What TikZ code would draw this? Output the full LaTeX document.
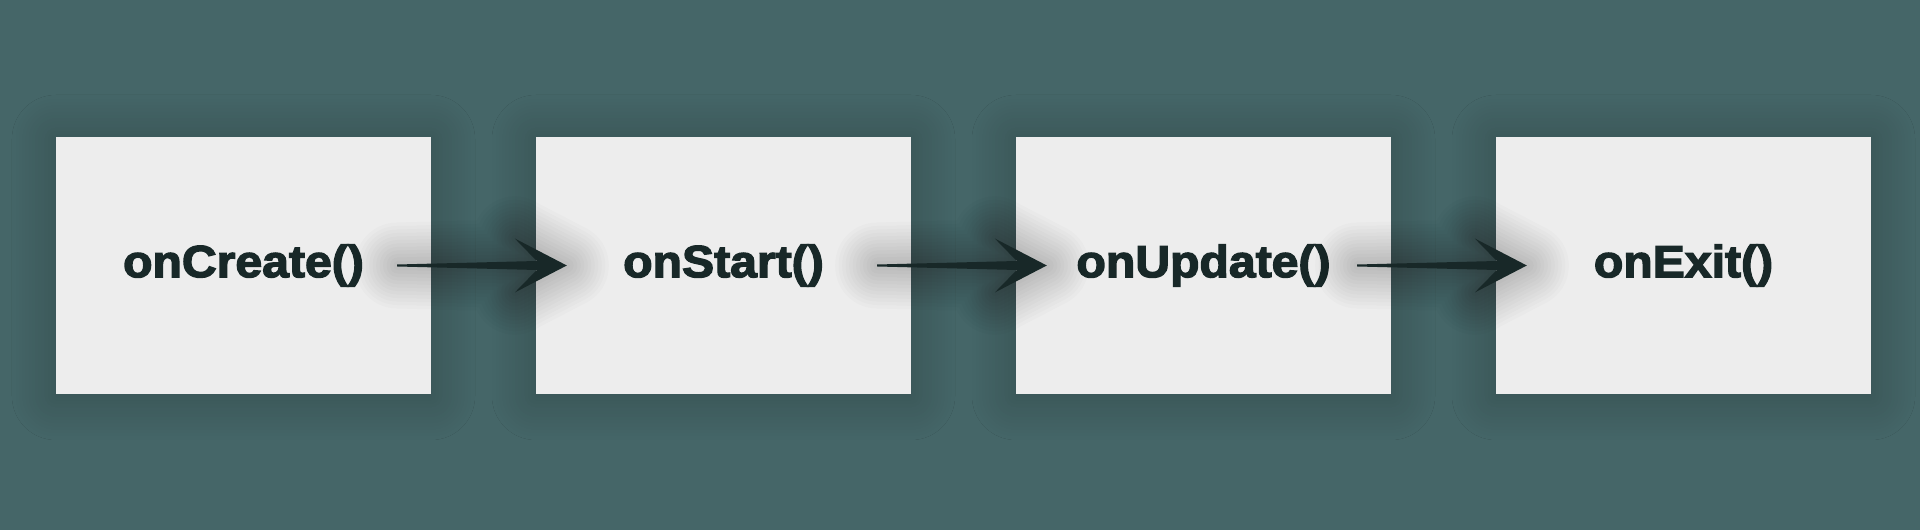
\documentclass[tikz,border=0pt]{standalone}
\usepackage{fontspec}
\newfontfamily\boxfont{Liberation Sans Bold}[FakeBold=3,FakeStretch=1.07]
\usetikzlibrary{calc,shadows.blur}
\definecolor{bgc}{RGB}{69,102,104}
\definecolor{boxc}{RGB}{237,237,237}
\definecolor{inkc}{RGB}{24,40,40}
\tikzset{
  stagebox/.style={fill=boxc, minimum width=375pt, minimum height=257pt, inner sep=0pt,
    text=inkc, font=\boxfont\fontsize{45}{50}\selectfont,
    blur shadow={shadow xshift=0pt, shadow yshift=-2pt, shadow blur radius=44pt, shadow blur steps=14, shadow opacity=26}},
  arrowfill/.style={fill=inkc},
  halo/.style={draw=black, line join=round, opacity=0.014}
}
\begin{document}
\begin{tikzpicture}[x=1pt,y=1pt]
\fill[bgc] (0,0) rectangle (1920,530);
\useasboundingbox (0,0) rectangle (1920,530);
\node[stagebox] (n1) at (243.5,264.5) {onCreate()};
\node[stagebox] (n2) at (723.5,264.5) {onStart()};
\node[stagebox] (n3) at (1203.5,264.5) {onUpdate()};
\node[stagebox] (n4) at (1683.5,264.5) {onExit()};
\foreach \a/\b in {n1/n2,n2/n3,n3/n4}{
  \foreach \k in {1,...,12}{
    \draw[halo, line width=\k*7pt]
      ($(\a.east)+(-34,1)$) -- ($(\b.west)+(1,4.5)$) -- ($(\b.west)+(-21,27)$) --
      ($(\b.west)+(31,0)$) -- ($(\b.west)+(-21,-27)$) -- ($(\b.west)+(1,-4.5)$) --
      ($(\a.east)+(-34,-1)$) -- cycle;
  }
  \fill[arrowfill]
      ($(\a.east)+(-34,1)$) -- ($(\b.west)+(1,4.5)$) -- ($(\b.west)+(-21,27)$) --
      ($(\b.west)+(31,0)$) -- ($(\b.west)+(-21,-27)$) -- ($(\b.west)+(1,-4.5)$) --
      ($(\a.east)+(-34,-1)$) -- cycle;
}
\end{tikzpicture}
\end{document}
